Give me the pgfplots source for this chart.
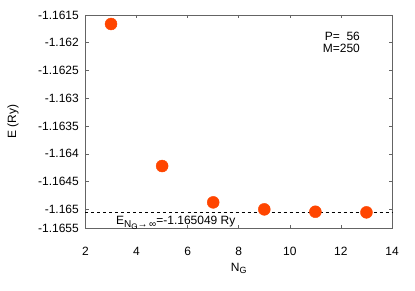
\documentclass[border=0pt]{standalone}
\usepackage{graphicx}
\usepackage{pgfplots}
\pgfplotsset{compat=1.18}
\usepackage{fontspec}
\setmainfont{Liberation Sans}
\definecolor{ptcol}{RGB}{255,69,0}
\definecolor{frame}{RGB}{100,100,100}
\begin{document}
\fontsize{12bp}{12bp}\selectfont
\begin{tikzpicture}[x=1bp,y=1bp]
\path (-85.5bp,-62.7bp) rectangle (329.5bp,228.3bp);
\begin{axis}[
  at={(0,0)}, anchor=south west,
  scale only axis, width=306.5bp, height=213.3bp,
  xmin=2, xmax=14, ymin=-1.16534, ymax=-1.1615,
  axis line style={frame, line width=0.8bp},
  tick style={frame, line width=0.6bp},
  major tick length=3.5bp,
  tick align=inside,
  xtick={2,4,6,8,10,12,14},
  xticklabels={2,4,6,8,10,12,14},
  ytick={-1.1615,-1.162,-1.1625,-1.163,-1.1635,-1.164,-1.1645,-1.165,-1.16534},
  yticklabels={-1.1615,-1.162,-1.1625,-1.163,-1.1635,-1.164,-1.1645,-1.165,-1.1655},
  xticklabel style={anchor=base, inner sep=0pt, yshift=-27bp},
  yticklabel style={anchor=east, inner sep=0pt, xshift=-6.5bp},
  xlabel={N\raisebox{-0.35ex}{\fontsize{9bp}{9bp}\selectfont G}},
  xlabel style={at={(axis description cs:0.5,0)}, anchor=base, inner sep=0pt, yshift=-42.7bp},
  clip=false,
]
\addplot[dash pattern=on 3bp off 3bp, black, line width=0.6bp] coordinates {(2,-1.165049) (14,-1.165049)};
\addplot[only marks, mark=*, mark size=6bp, mark options={fill=ptcol, draw=ptcol}] coordinates {
(3,-1.161662)
(5,-1.164219)
(7,-1.164873)
(9,-1.164999)
(11,-1.165042)
(13,-1.165053)
};
\node[anchor=base west, inner sep=0pt] at (axis cs:3.19,-1.16528) {E\raisebox{-0.45ex}{\fontsize{10bp}{10bp}\selectfont N\raisebox{-0.35ex}{\fontsize{8bp}{8bp}\selectfont G}→\,∞}=-1.165049 Ry};
\node[anchor=base east, inner sep=0pt] at (axis cs:12.75,-1.161962) {P=\ \ 56};
\node[anchor=base east, inner sep=0pt] at (axis cs:12.75,-1.162178) {M=250};
\node[anchor=center, inner sep=0pt] at ([xshift=-72.5bp]rel axis cs:0,0.5) {\rotatebox{90}{E (Ry)}};
\end{axis}
\end{tikzpicture}
\end{document}
